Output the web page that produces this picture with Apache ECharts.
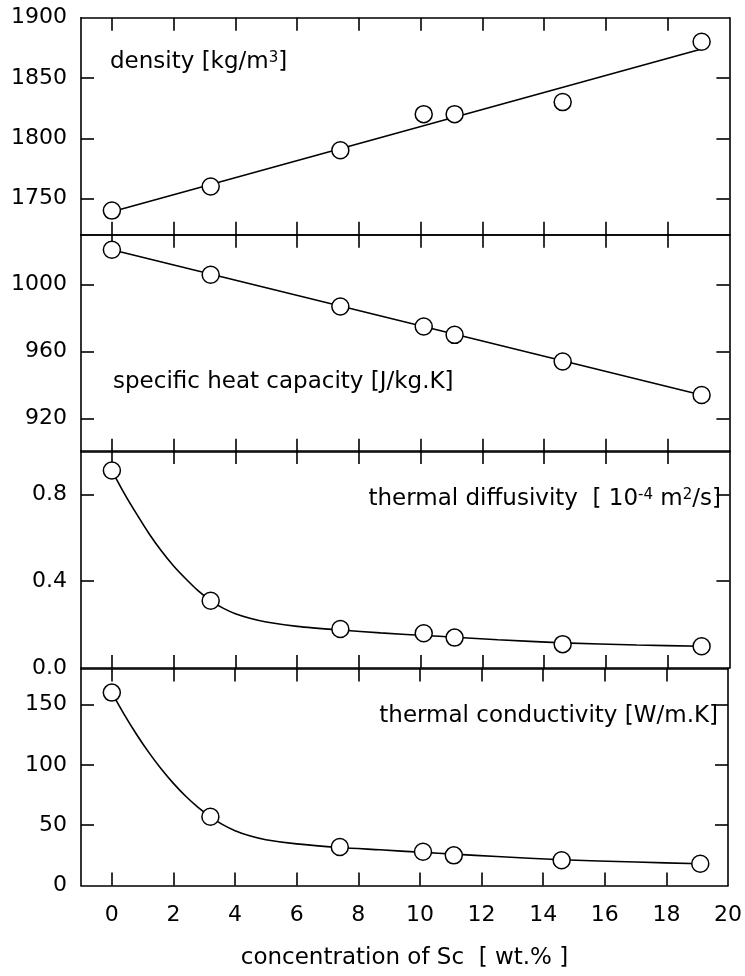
<!DOCTYPE html>
<html>
<head>
<meta charset="utf-8">
<script src="https://cdn.jsdelivr.net/npm/echarts@6/dist/echarts.min.js"></script>
<style>
html,body{margin:0;padding:0;background:#fff;}
#chart{width:745px;height:976px;}
</style>
</head>
<body>
<div id="chart"></div>
<script>
// ---- data ----
var concentration = [0, 3.2, 7.4, 10.1, 11.1, 14.6, 19.1];
var density = [1740, 1760, 1790, 1820, 1820, 1830, 1880];
var heatCapacity = [1021, 1006, 987, 975, 970, 954, 934];
var diffusivity = [0.91, 0.31, 0.18, 0.16, 0.14, 0.11, 0.10];
var conductivity = [160, 57, 32, 28, 25, 21, 18];

// fitted curves as drawn in the figure
var densityFit = [[0, 1739], [19.1, 1874]];
var heatFit = [[0, 1021], [19.1, 934]];
var diffusivityFit = [[0, 0.91], [0.4, 0.805], [0.8, 0.71], [1.2, 0.62], [1.6, 0.54], [2.0, 0.47], [2.4, 0.41], [2.8, 0.355], [3.2, 0.31], [3.6, 0.276], [4.0, 0.25], [4.5, 0.228], [5.0, 0.212], [6.0, 0.192], [7.4, 0.175], [8.7, 0.162], [10.1, 0.15], [11.1, 0.142], [12.5, 0.13], [14.6, 0.116], [17, 0.106], [19.1, 0.10]];
var conductivityFit = [[0, 160], [0.4, 142], [0.8, 125.5], [1.2, 110.4], [1.6, 96.8], [2.0, 84.7], [2.4, 74], [2.8, 64.8], [3.2, 57], [3.6, 50.5], [4.0, 45.5], [4.5, 41], [5.0, 38], [6.0, 34.5], [7.4, 31.5], [8.7, 29.6], [10.1, 27.5], [11.1, 26], [12.5, 24], [14.6, 21.3], [17, 19.5], [19.1, 18]];

// axis ticks / labels
var xLabels = [0, 2, 4, 6, 8, 10, 12, 14, 16, 18, 20];
var xTicks = [0, 2, 4, 6, 8, 10, 12, 14, 16, 18];
var densityLabels = [1750, 1800, 1850, 1900];
var heatLabels = [920, 960, 1000];
var diffusivityLabels = [0.0, 0.4, 0.8];
var conductivityLabels = [0, 50, 100, 150];

// panel titles (rich text: n = normal, s = superscript)
var panelTitles = [
  '{n|density [kg/m}{s|3}{n|]}',
  '{n|specific heat capacity [J/kg.K]}',
  '{n|thermal diffusivity  [ 10}{s|-4}{n| m}{s|2}{n|/s]}',
  '{n|thermal conductivity [W/m.K]}'
];
var xName = 'concentration of Sc  [ wt.% ]';

// ---- layout ----
var FONT = '"DejaVu Sans", "Liberation Sans", Arial, sans-serif';
var gridTops = [17.7, 234.7, 451, 668.5];
var gridH = 217;
var panels = [
  {min: 1720, max: 1900, labels: densityLabels, pts: density, fit: densityFit, smooth: false, fmt: function (v) { return String(v); }},
  {min: 900, max: 1030, labels: heatLabels, pts: heatCapacity, fit: heatFit, smooth: false, fmt: function (v) { return String(v); }},
  {min: 0, max: 1.0, labels: diffusivityLabels, pts: diffusivity, fit: diffusivityFit, smooth: true, fmt: function (v) { return Number(v).toFixed(1); }},
  {min: 0, max: 180, labels: conductivityLabels, pts: conductivity, fit: conductivityFit, smooth: true, fmt: function (v) { return String(v); }}
];

var lineSt = {color: '#000', width: 1.6};
var grids = [], xAxes = [], yAxes = [], series = [];

panels.forEach(function (p, i) {
  grids.push({left: 81, right: 15.6, top: gridTops[i], height: gridH});
  var isBottom = (i === panels.length - 1);
  xAxes.push({
    gridIndex: i, type: 'value', min: -1, max: 20, position: 'bottom',
    axisLine: {show: true, onZero: false, lineStyle: lineSt},
    axisTick: {show: true, inside: true, length: 13, customValues: xTicks, lineStyle: lineSt},
    axisLabel: {show: isBottom, customValues: xLabels, margin: 19, fontSize: 22, fontFamily: FONT, color: '#000'},
    splitLine: {show: false},
    name: isBottom ? xName : '', nameLocation: 'middle', nameGap: 61,
    nameTextStyle: {fontSize: 23, fontFamily: FONT, color: '#000'}
  });
  xAxes.push({
    gridIndex: i, type: 'value', min: -1, max: 20, position: 'top',
    axisLine: {show: true, onZero: false, lineStyle: lineSt},
    axisTick: {show: true, inside: true, length: 13, customValues: xTicks, lineStyle: lineSt},
    axisLabel: {show: false},
    splitLine: {show: false}
  });
  var tickVals = p.labels.filter(function (v) { return v > p.min && v < p.max; });
  yAxes.push({
    gridIndex: i, type: 'value', min: p.min, max: p.max, position: 'left',
    axisLine: {show: true, onZero: false, lineStyle: lineSt},
    axisTick: {show: true, inside: true, length: 13, customValues: tickVals, lineStyle: lineSt},
    axisLabel: {show: true, customValues: p.labels, margin: 14, fontSize: 22, fontFamily: FONT, color: '#000', formatter: p.fmt, showMinLabel: true, showMaxLabel: true},
    splitLine: {show: false}
  });
  yAxes.push({
    gridIndex: i, type: 'value', min: p.min, max: p.max, position: 'right',
    axisLine: {show: true, onZero: false, lineStyle: lineSt},
    axisTick: {show: true, inside: true, length: 13, customValues: tickVals, lineStyle: lineSt},
    axisLabel: {show: false},
    splitLine: {show: false}
  });
  series.push({
    type: 'line', xAxisIndex: 2 * i, yAxisIndex: 2 * i, data: p.fit,
    showSymbol: false, smooth: p.smooth ? 0.25 : false, silent: true, z: 2,
    lineStyle: {color: '#000', width: 1.6}
  });
  series.push({
    type: 'scatter', xAxisIndex: 2 * i, yAxisIndex: 2 * i,
    data: concentration.map(function (c, k) { return [c, p.pts[k]]; }),
    symbol: 'circle', symbolSize: 17, z: 5,
    itemStyle: {color: '#fff', borderColor: '#000', borderWidth: 1.5, opacity: 1}
  });
});

var rich = {
  n: {fontSize: 23, fontFamily: FONT, fill: '#000'},
  s: {fontSize: 15, fontFamily: FONT, fill: '#000', verticalAlign: 'top'}
};
function titleText(i, x, y, align) {
  return {type: 'text', x: x, y: y, z: 10, style: {text: panelTitles[i], rich: rich, fontSize: 23, fontFamily: FONT, fill: '#000', align: align, verticalAlign: 'middle'}};
}
var graphic = [
  titleText(0, 110, 62, 'left'),
  titleText(1, 113, 382, 'left'),
  titleText(2, 721, 499, 'right'),
  titleText(3, 718, 716, 'right')
];

var chart = echarts.init(document.getElementById('chart'), null, {renderer: 'canvas'});
chart.setOption({
  animation: false,
  backgroundColor: '#fff',
  grid: grids,
  xAxis: xAxes,
  yAxis: yAxes,
  series: series,
  graphic: graphic
});
</script>
</body>
</html>
